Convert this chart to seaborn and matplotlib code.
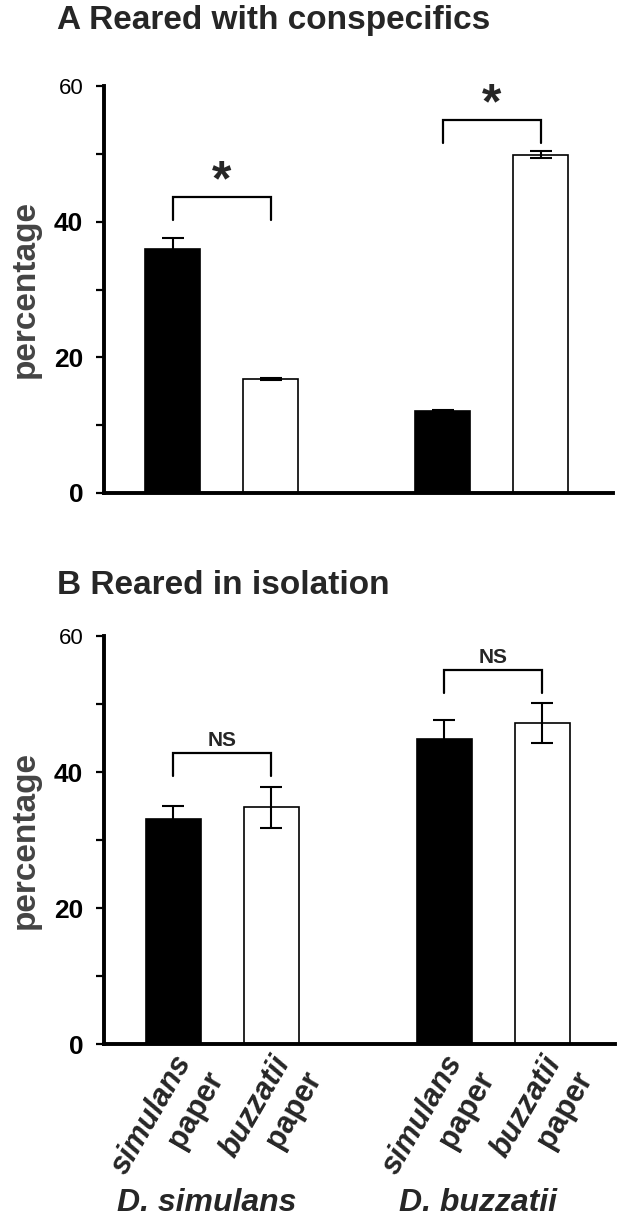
import numpy as np
import pandas as pd
import matplotlib
matplotlib.use("Agg")
import matplotlib.pyplot as plt
import seaborn as sns

# values
species = ["D. simulans", "D. buzzatii"]
paper = ["simulans paper", "buzzatii paper"]
paper_word = ["simulans", "buzzatii"]
bar_colors = ["black", "white"]

conspecific_mean = [36.0, 16.8, 12.1, 49.9]
conspecific_sem = [1.6, 0.2, 0.2, 0.5]
isolation_mean = [33.1, 34.8, 44.8, 47.2]
isolation_sem = [1.9, 3.0, 2.8, 3.0]

# significance brackets: leg bottom, bracket top, label
conspecific_legs = [40.3, 51.6]
conspecific_tops = [43.7, 55.0]
conspecific_marks = ["*", "*"]
isolation_legs = [39.4, 51.6]
isolation_tops = [42.8, 55.0]
isolation_marks = ["NS", "NS"]

y_ticks = [0, 20, 40, 60]
y_minor = [10, 30, 50]

sns.set_style("ticks")
plt.rcParams["font.family"] = ["Liberation Sans", "DejaVu Sans"]


def draw_panel(ax, means, sems, legs, tops, marks, mark_size, mark_gap):
    df = pd.DataFrame({
        "species": np.repeat(species, len(paper)),
        "paper": paper * len(species),
        "pct": means,
    })
    sns.barplot(data=df, x="species", y="pct", hue="paper", order=species,
                hue_order=paper, palette=dict(zip(paper, bar_colors)),
                saturation=1, edgecolor="black", linewidth=1.2, width=0.725,
                gap=0.44, errorbar=None, legend=False, ax=ax)

    bars = sorted(ax.patches, key=lambda p: p.get_x())
    centers = [p.get_x() + p.get_width() / 2 for p in bars]
    ax.errorbar(centers, means, yerr=sems, fmt="none", ecolor="black",
                elinewidth=1.5, capsize=8, capthick=1.5, zorder=4)

    for g in range(len(species)):
        x0, x1 = centers[2 * g], centers[2 * g + 1]
        ax.plot([x0, x0, x1, x1], [legs[g], tops[g], tops[g], legs[g]],
                color="black", lw=1.6, solid_joinstyle="miter", zorder=4)
        ax.text((x0 + x1) / 2, tops[g] + mark_gap, marks[g], ha="center",
                va="baseline", fontsize=mark_size, fontweight="bold")

    ax.set_xlim(-0.436, 1.449)
    ax.set_ylim(0, 60)
    ax.set_yticks(y_ticks)
    labels = ax.set_yticklabels([str(t) for t in y_ticks])
    for t, lab in zip(y_ticks, labels):
        if t == 60:
            lab.set_fontsize(16)
        else:
            lab.set_fontsize(19)
            lab.set_fontweight("bold")
    ax.set_yticks(y_minor, minor=True)
    ax.tick_params(axis="y", which="both", direction="out", length=6,
                   width=1.6, pad=9, colors="black")
    ax.set_xticks([])
    ax.set_xlabel("")
    ax.set_ylabel("percentage", fontsize=24, fontweight="bold", color="#444444")
    ax.yaxis.set_label_coords(-0.155, 0.5)
    ax.yaxis.label.set_verticalalignment("center")
    sns.despine(ax=ax)
    ax.spines["left"].set_linewidth(2.8)
    ax.spines["bottom"].set_linewidth(2.8)
    ax.spines["left"].set_color("black")
    ax.spines["bottom"].set_color("black")
    return centers


fig = plt.figure(figsize=(6.21, 12.20), dpi=100)
W, H = 621, 1220
axA = fig.add_axes([104 / W, (H - 493) / H, (613 - 104) / W, (493 - 86) / H])
axB = fig.add_axes([104 / W, (H - 1044) / H, (615 - 104) / W, (1044 - 636) / H])

draw_panel(axA, conspecific_mean, conspecific_sem, conspecific_legs,
           conspecific_tops, conspecific_marks, 36, 0.2)
centers = draw_panel(axB, isolation_mean, isolation_sem, isolation_legs,
                     isolation_tops, isolation_marks, 15, 1.0)

fig.text(57 / W, 1 - 20 / H, "A Reared with conspecifics", ha="left",
         va="center", fontsize=24, fontweight="bold")
fig.text(57 / W, 1 - 585 / H, "B Reared in isolation", ha="left",
         va="center", fontsize=24, fontweight="bold")

# rotated two-line x labels under panel B
ang = np.deg2rad(60)
u = np.array([np.cos(ang), np.sin(ang)])    # along the text
n = np.array([np.sin(ang), -np.cos(ang)])   # next line direction
px2pt = 0.72
for i, xc in enumerate(centers):
    word = paper_word[i % 2]
    off1 = (-6 * u + 17 * n) * px2pt
    off2 = (-4 * u + 52 * n) * px2pt
    axB.annotate(word, xy=(xc, 0), xycoords=("data", "axes fraction"),
                 xytext=off1, textcoords="offset points", rotation=60,
                 rotation_mode="anchor", ha="right", va="center",
                 fontsize=22, fontweight="bold", fontstyle="italic")
    axB.annotate("paper", xy=(xc, 0), xycoords=("data", "axes fraction"),
                 xytext=off2, textcoords="offset points", rotation=60,
                 rotation_mode="anchor", ha="right", va="center",
                 fontsize=22, fontweight="bold")

for g, name in enumerate(species):
    gx = (centers[2 * g] + centers[2 * g + 1]) / 2
    axB.annotate(name, xy=(gx, 0), xycoords=("data", "axes fraction"),
                 xytext=(-11, -114.5), textcoords="offset points",
                 ha="center", va="center", fontsize=23, fontweight="bold",
                 fontstyle="italic")

fig.savefig("out.png", dpi=100)
